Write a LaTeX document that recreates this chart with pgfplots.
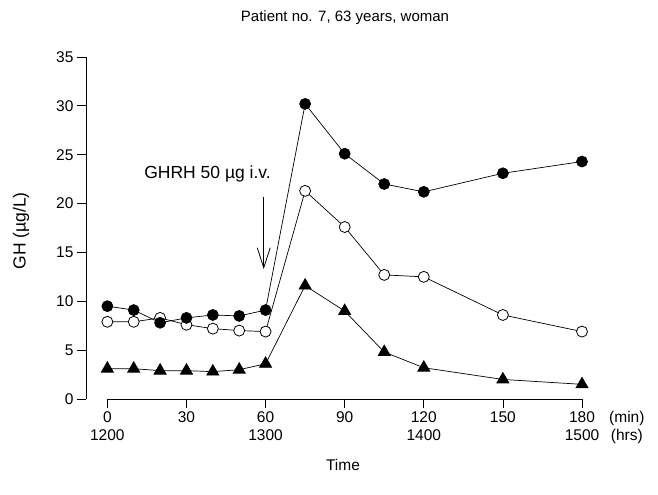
\documentclass[border=0pt]{standalone}
\usepackage{pgfplots}
\pgfplotsset{compat=1.18}
\usepackage{fontspec}
\setmainfont{Liberation Sans}
\usetikzlibrary{arrows.meta}
\begin{document}
\begin{tikzpicture}[x=1bp,y=1bp]
\useasboundingbox (0,0) rectangle (658,495);
\begin{axis}[
  at={(86bp,96bp)}, anchor=south west,
  scale only axis, width=496bp, height=342bp,
  xmin=-8.1, xmax=180, ymin=0, ymax=35,
  axis x line*=bottom, axis y line*=left,
  axis line style={-, line width=0.8bp},
  x axis line style={draw=none},
  xtick={0,30,60,90,120,150,180},
  xticklabels={0\\1200,30,60\\1300,90,120\\1400,150,180\\1500},
  xticklabel style={align=center, font=\fontsize{15.5bp}{18bp}\selectfont},
  ytick={0,5,...,35},
  yticklabel style={font=\fontsize{15.5bp}{18bp}\selectfont},
  /pgf/number format/assume math mode=true,
  tick align=outside,
  major tick length=9bp,
  tick style={black, line width=0.8bp},
  clip=false,
]
\draw[line width=0.8bp] (axis cs:0,0) -- (axis cs:180,0);
% open circles
\addplot[black, line width=0.7bp, mark=*, mark size=5.5bp, mark options={fill=white, line width=0.8bp}] coordinates {
(0,7.9)(10,7.9)(20,8.3)(30,7.6)(40,7.2)(50,7.0)(60,6.9)(75,21.3)(90,17.6)(105,12.7)(120,12.5)(150,8.6)(180,6.9)};
% filled circles
\addplot[black, line width=0.7bp, mark=*, mark size=5.5bp, mark options={fill=black}] coordinates {
(0,9.5)(10,9.1)(20,7.8)(30,8.3)(40,8.6)(50,8.5)(60,9.1)(75,30.2)(90,25.1)(105,22.0)(120,21.2)(150,23.1)(180,24.3)};
% triangles
\addplot[black, line width=0.7bp, mark=triangle*, mark size=7bp, mark options={fill=black}] coordinates {
(0,3.1)(10,3.1)(20,2.9)(30,2.9)(40,2.8)(50,3.0)(60,3.6)(75,11.6)(90,9.0)(105,4.8)(120,3.2)(150,2.0)(180,1.5)};
\draw[line width=0.8bp, -{Straight Barb[length=20bp,width=13bp]}] (axis cs:59.3,20.7) -- (axis cs:59.3,13.3);
\node[font=\fontsize{17.5bp}{20bp}\selectfont] at (axis cs:38,23.0) {GHRH 50 µg i.v.};
\node[anchor=north, align=center, font=\fontsize{15.5bp}{18bp}\selectfont, yshift=-9bp] at (axis cs:197,0) {(min)\\(hrs)};
\end{axis}
\node[font=\fontsize{15bp}{18bp}\selectfont] at (345,477) {Patient no. 7, 63 years, woman};
\node[font=\fontsize{17.5bp}{20bp}\selectfont, rotate=90] at (21,264) {GH (µg/L)};
\node[font=\fontsize{15.5bp}{18bp}\selectfont] at (343,30) {Time};
\end{tikzpicture}
\end{document}
